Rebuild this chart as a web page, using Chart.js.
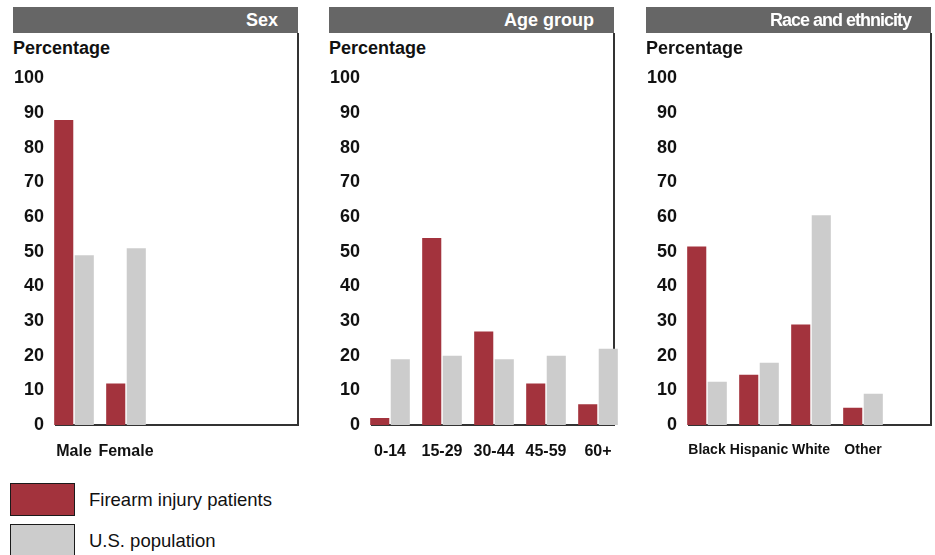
<!DOCTYPE html>
<html>
<head>
<meta charset="utf-8">
<script src="https://cdn.jsdelivr.net/npm/chart.js@4.4.1/dist/chart.umd.min.js"></script>
<style>
  body { margin: 0; background: #fff; width: 935px; height: 555px; overflow: hidden; position: relative; font-family: 'Liberation Sans', Arial, sans-serif; }
  .panel { position: absolute; top: 7px; width: 286px; height: 463px; }
  .head { position: absolute; left: 0; top: 0; width: 285px; height: 26px; background: #666; color: #fff;
          font: bold 18px 'Liberation Sans', Arial, sans-serif; line-height: 26px; text-align: right; box-sizing: border-box; padding-right: 20px; }
  .ytitle { position: absolute; left: 0; top: 30px; font: bold 18px 'Liberation Sans', Arial, sans-serif; line-height: 22px; color: #111; }
  .vline { position: absolute; left: 284px; top: 26px; width: 2px; height: 392px; background: #333; }
  .hline { position: absolute; left: 42px; top: 417px; width: 244px; height: 2px; background: #333; }
  .cv { position: absolute; left: -20px; top: 26px; }
  .legend { position: absolute; left: 10px; top: 483px; }
  .item { position: relative; height: 41px; }
  .box { position: absolute; left: 0; top: 0; width: 63px; height: 31px; border: 1px solid #1a1a1a; }
  .txt { position: absolute; left: 79px; top: 0; line-height: 33px; font-size: 18.5px; color: #111; white-space: nowrap; }
</style>
</head>
<body>
<script>
// series names and colours
const seriesNames = ['Firearm injury patients', 'U.S. population'];
const seriesColors = ['#a3333d', '#cccccc'];

// Sex
const sexLabels = ['Male', 'Female'];
const sexPatients = [88, 12];
const sexPopulation = [49, 51];

// Age group
const ageLabels = ['0-14', '15-29', '30-44', '45-59', '60+'];
const agePatients = [2, 54, 27, 12, 6];
const agePopulation = [19, 20, 19, 20, 22];

// Race and ethnicity
const raceLabels = ['Black', 'Hispanic', 'White', 'Other'];
const racePatients = [51.5, 14.5, 29, 5];
const racePopulation = [12.5, 18, 60.5, 9];

const panels = [
  { title: 'Sex', left: 13, labels: sexLabels, series: [sexPatients, sexPopulation], labelSize: 16 },
  { title: 'Age group', left: 329, labels: ageLabels, series: [agePatients, agePopulation], labelSize: 16 },
  { title: 'Race and ethnicity', left: 646, labels: raceLabels, series: [racePatients, racePopulation], labelSize: 14, squeeze: true }
];

const slot = 52;      // width of one category
const yAxisW = 55;    // canvas starts 20px left of the panel
const padR = 40;      // room for the last x label

panels.forEach(p => {
  const div = document.createElement('div');
  div.className = 'panel';
  div.style.left = p.left + 'px';
  div.innerHTML = '<div class="head"' + (p.squeeze ? ' style="letter-spacing:-1px"' : '') + '>' + p.title + '</div>' +
    '<div class="ytitle">Percentage</div><div class="vline"></div><div class="hline"></div>';
  const canvas = document.createElement('canvas');
  canvas.className = 'cv';
  canvas.width = yAxisW + p.labels.length * slot + padR;
  canvas.height = 437;
  div.appendChild(canvas);
  document.body.appendChild(div);

  new Chart(canvas, {
    type: 'bar',
    data: {
      labels: p.labels,
      datasets: p.series.map((vals, i) => ({
        label: seriesNames[i],
        data: vals,
        backgroundColor: seriesColors[i],
        borderWidth: 0,
        categoryPercentage: 0.79,
        barPercentage: 0.93
      }))
    },
    options: {
      responsive: false,
      animation: false,
      layout: { padding: { left: 0, right: padR, top: 45.5, bottom: 0 } },
      plugins: {
        legend: { display: false },
        tooltip: { enabled: false }
      },
      scales: {
        x: {
          grid: { display: false, drawTicks: false },
          border: { display: false },
          ticks: {
            color: '#111',
            padding: 17,
            maxRotation: 0,
            autoSkip: false,
            font: { family: "'Liberation Sans', Arial, sans-serif", size: p.labelSize, weight: 'bold' }
          },
          afterFit: s => { s.height = 45; }
        },
        y: {
          min: 0,
          max: 100,
          grid: { display: false, drawTicks: false },
          border: { display: false },
          ticks: {
            stepSize: 10,
            color: '#111',
            padding: 4,
            font: { family: "'Liberation Sans', Arial, sans-serif", size: 18, weight: 'bold' }
          },
          afterFit: s => { s.width = yAxisW; }
        }
      }
    }
  });
});

// legend
const legend = document.createElement('div');
legend.className = 'legend';
seriesNames.forEach((name, i) => {
  const item = document.createElement('div');
  item.className = 'item';
  item.innerHTML = '<div class="box" style="background:' + seriesColors[i] + '"></div><div class="txt">' + name + '</div>';
  legend.appendChild(item);
});
document.body.appendChild(legend);
</script>
</body>
</html>
